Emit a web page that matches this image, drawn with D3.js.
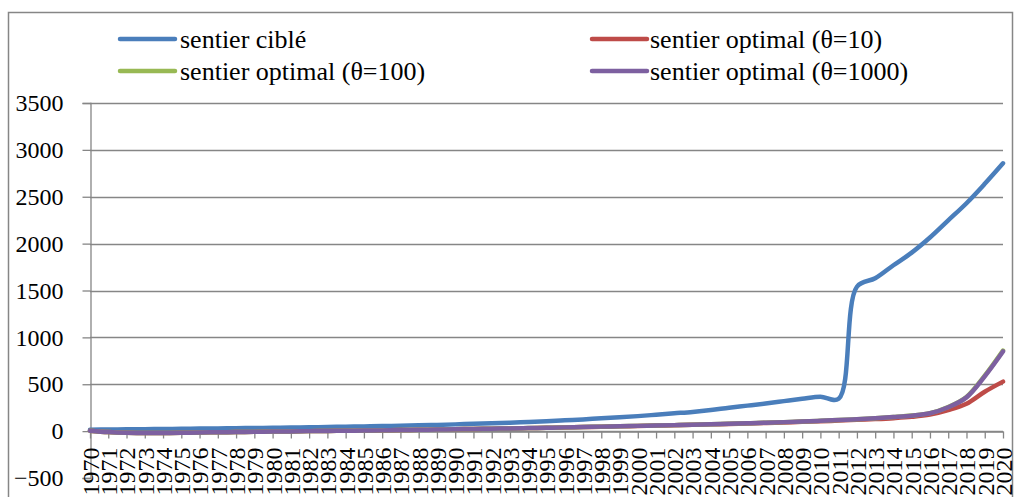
<!DOCTYPE html>
<html>
<head>
<meta charset="utf-8">
<script src="https://cdn.jsdelivr.net/npm/d3@7"></script>
<style>
  body { margin: 0; background: #fff; }
  svg text { font-family: "Liberation Serif", "Times New Roman", Tinos, "DejaVu Serif", serif; fill: #000; }
</style>
</head>
<body>
<div id="chart"></div>
<script>
// years on the category axis
const years = d3.range(1970, 2021).map(String);

// sentier ciblé
const cible = [15, 17, 19, 21, 23, 25, 27, 29, 31, 33,
               35, 38, 41, 44, 47, 50, 54, 58, 62, 66,
               72, 78, 84, 90, 97, 105, 115, 125, 137, 148,
               160, 175, 190, 205, 225, 250, 272, 295, 320, 345,
               368, 345, 1540, 1630, 1769, 1904, 2065, 2248, 2431, 2638,
               2857];

// sentier optimal θ=10
const opt10 = [5, -10, -18, -20, -20, -18, -15, -12, -10, -8,
               -5, -3, 0, 2, 4, 6, 8, 11, 14, 17,
               20, 23, 26, 29, 32, 35, 39, 43, 47, 51,
               55, 59, 63, 67, 72, 77, 82, 87, 93, 99,
               105, 112, 120, 128, 138, 152, 176, 224, 292, 420,
               528];

// sentier optimal θ=100
const opt100 = [5, -10, -18, -20, -20, -18, -15, -12, -10, -8,
                -5, -3, 0, 2, 4, 6, 8, 11, 14, 17,
                20, 23, 26, 29, 33, 36, 40, 44, 48, 52,
                56, 60, 64, 69, 74, 79, 84, 90, 96, 103,
                110, 118, 127, 137, 150, 166, 192, 258, 365, 592,
                860];

// sentier optimal θ=1000
const opt1000 = [5, -10, -18, -20, -20, -18, -15, -12, -10, -8,
                 -5, -3, 0, 2, 4, 6, 8, 11, 14, 17,
                 20, 23, 26, 29, 33, 36, 40, 44, 48, 52,
                 56, 60, 64, 69, 74, 79, 84, 90, 96, 103,
                 110, 118, 127, 137, 150, 165, 190, 255, 360, 585,
                 850];

const yTicks = [-500, 0, 500, 1000, 1500, 2000, 2500, 3000, 3500];

const series = [
  { name: "sentier ciblé", values: cible, color: "#4a7ebb" },
  { name: "sentier optimal (θ=10)", values: opt10, color: "#be4b48" },
  { name: "sentier optimal (θ=100)", values: opt100, color: "#98b954" },
  { name: "sentier optimal (θ=1000)", values: opt1000, color: "#7d60a0" }
];

const width = 1015, height = 497;
const serif = "'Liberation Serif', 'Times New Roman', Tinos, 'DejaVu Serif', serif";

const svg = d3.select("#chart")
  .append("svg")
  .attr("width", width)
  .attr("height", height)
  .attr("font-family", serif);

// outer chart frame
svg.append("rect")
  .attr("x", 8.5).attr("y", 12.5)
  .attr("width", 1004).attr("height", 520)
  .attr("fill", "none")
  .attr("stroke", "#868686")
  .attr("stroke-width", 1.5);

const x = d3.scalePoint().domain(years).range([90, 1003]);
const y = d3.scaleLinear().domain([-500, 3500]).range([478, 103]);

// gridlines
svg.append("g")
  .selectAll("line")
  .data(yTicks.filter(d => d > -500))
  .join("line")
  .attr("x1", 90).attr("x2", 1003)
  .attr("y1", d => Math.round(y(d)) + 0.5)
  .attr("y2", d => Math.round(y(d)) + 0.5)
  .attr("stroke", "#868686")
  .attr("stroke-width", 1.3);

// y axis
const yAxis = svg.append("g")
  .attr("transform", "translate(90.5,0)")
  .call(d3.axisLeft(y).tickValues(yTicks).tickSize(8).tickPadding(19).tickFormat(d3.format("d")));
yAxis.attr("font-family", serif).attr("font-size", 24);
yAxis.select(".domain").attr("stroke", "#868686").attr("stroke-width", 1.3);
yAxis.selectAll(".tick line").attr("stroke", "#868686").attr("stroke-width", 1.3);
yAxis.selectAll(".tick text").attr("fill", "#000");

// x axis at value 0
const xAxis = svg.append("g")
  .attr("transform", `translate(0,${Math.round(y(0)) + 0.5})`)
  .call(d3.axisBottom(x).tickSize(7).tickSizeOuter(0));
xAxis.attr("font-family", serif).attr("font-size", 24);
xAxis.select(".domain").attr("stroke", "#868686").attr("stroke-width", 1.3);
xAxis.selectAll(".tick line").attr("stroke", "#868686").attr("stroke-width", 1.3);
xAxis.selectAll(".tick text")
  .attr("fill", "#000")
  .attr("text-anchor", "end")
  .attr("transform", "rotate(-90)")
  .attr("x", -16)
  .attr("y", 0)
  .attr("dy", "0.35em");

// lines
const line = d3.line()
  .x((d, i) => x(years[i]))
  .y(d => y(d))
  .curve(d3.curveCatmullRom);

svg.append("g")
  .selectAll("path")
  .data(series)
  .join("path")
  .attr("d", d => line(d.values))
  .attr("fill", "none")
  .attr("stroke", d => d.color)
  .attr("stroke-width", 4.5)
  .attr("stroke-linejoin", "round")
  .attr("stroke-linecap", "round");

// legend
const legendPos = [
  { sx: 120, tx: 180, cy: 39 },
  { sx: 592, tx: 650, cy: 39 },
  { sx: 120, tx: 180, cy: 71 },
  { sx: 592, tx: 650, cy: 71 }
];

const legend = svg.append("g")
  .attr("font-size", 26)
  .selectAll("g")
  .data(series)
  .join("g")
  .attr("transform", (d, i) => `translate(0,${legendPos[i].cy})`);

legend.append("line")
  .attr("x1", (d, i) => legendPos[i].sx)
  .attr("x2", (d, i) => legendPos[i].sx + 55)
  .attr("stroke", d => d.color)
  .attr("stroke-width", 4.5)
  .attr("stroke-linecap", "round");

legend.append("text")
  .attr("x", (d, i) => legendPos[i].tx)
  .attr("y", 9)
  .text(d => d.name);
</script>
</body>
</html>
